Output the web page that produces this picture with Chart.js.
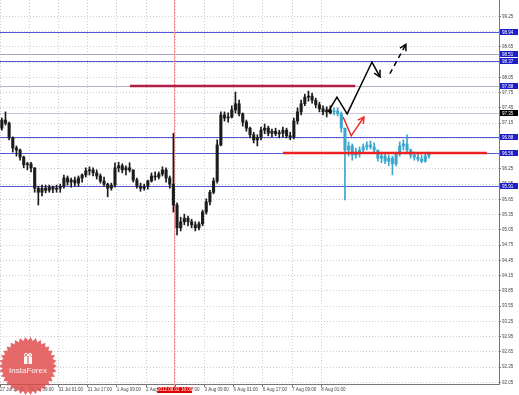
<!DOCTYPE html>
<html>
<head>
<meta charset="utf-8">
<script src="https://cdn.jsdelivr.net/npm/chart.js@4.4.0/dist/chart.umd.min.js"></script>
<style>
html,body{margin:0;padding:0;background:#fff;}
canvas{display:block;}
</style>
</head>
<body>
<canvas id="c" width="519" height="395"></canvas>
<script>
// 2 hour bars, x value = bar number
var barOpen  = [97.05,97.21,97.15,96.86,96.66,96.62,96.48,96.33,96.35,96.27,95.87,95.79,95.87,95.83,95.89,95.85,95.87,95.91,96.07,95.99,
                96.03,95.97,96.07,96.13,96.21,96.23,96.17,96.11,96.01,95.95,95.87,95.93,96.27,96.31,96.23,96.27,96.23,96.03,95.91,95.87,
                95.91,96.01,96.11,96.09,96.15,96.23,96.07,95.95,95.54,95.09,95.21,95.28,95.21,95.15,95.09,95.17,95.40,95.60,95.79,96.01,
                96.72,97.31,97.25,97.27,97.41,97.53,97.33,97.17,97.05,96.92,96.82,96.86,97.01,97.05,96.95,96.99,96.94,96.95,97.01,96.90,
                96.88,97.19,97.37,97.53,97.66,97.68,97.60,97.51,97.43,97.37,97.41];
var barHigh  = [97.25,97.37,97.17,96.88,96.70,96.64,96.50,96.38,96.38,96.27,95.91,95.93,95.93,95.93,95.91,95.93,95.95,96.13,96.11,96.07,
                96.09,96.11,96.15,96.27,96.29,96.27,96.23,96.15,96.09,95.97,95.97,96.37,96.38,96.35,96.31,96.37,96.23,96.07,95.97,95.95,
                96.03,96.17,96.19,96.19,96.29,96.27,96.11,96.95,95.58,95.30,95.36,95.32,95.26,95.21,95.21,95.44,95.66,95.83,96.07,96.82,
                97.37,97.37,97.35,97.49,97.76,97.60,97.35,97.21,97.07,96.97,96.92,97.07,97.13,97.09,97.03,97.05,97.01,97.07,97.05,96.97,
                97.25,97.45,97.60,97.72,97.78,97.74,97.64,97.56,97.49,97.47,97.49];
var barLow   = [97.01,97.11,96.82,96.58,96.50,96.42,96.27,96.23,96.19,95.79,95.54,95.72,95.78,95.79,95.78,95.79,95.79,95.87,95.93,95.89,
                95.91,95.91,95.99,96.09,96.13,96.11,96.05,95.97,95.91,95.70,95.83,95.89,96.19,96.17,96.13,96.19,95.99,95.87,95.81,95.83,
                95.85,95.99,96.03,96.05,96.11,95.99,95.87,95.40,94.95,95.03,95.15,95.13,95.09,95.03,95.05,95.13,95.36,95.54,95.76,95.97,
                96.70,97.19,97.17,97.25,97.35,97.29,97.09,96.99,96.86,96.76,96.70,96.82,96.94,96.90,96.88,96.90,96.86,96.88,96.86,96.82,
                96.84,97.13,97.31,97.49,97.58,97.54,97.45,97.37,97.31,97.27,97.33];
var barClose = [97.21,97.15,96.86,96.66,96.62,96.48,96.33,96.35,96.27,95.87,95.79,95.87,95.83,95.89,95.85,95.87,95.91,96.07,95.99,96.03,
                95.97,96.07,96.13,96.21,96.23,96.17,96.11,96.01,95.95,95.87,95.93,96.27,96.31,96.23,96.27,96.23,96.03,95.91,95.87,95.91,
                96.01,96.11,96.09,96.15,96.23,96.07,95.95,95.54,95.09,95.21,95.28,95.21,95.15,95.09,95.17,95.40,95.60,95.79,96.01,96.72,
                97.31,97.25,97.27,97.41,97.53,97.33,97.17,97.05,96.92,96.82,96.86,97.01,97.05,96.95,96.99,96.94,96.95,97.01,96.90,96.88,
                97.19,97.37,97.53,97.66,97.68,97.60,97.51,97.43,97.37,97.41,97.35];

// projected bars (cyan), starting at bar 91
var projFirstBar = 91;
var projOpen  = [97.37,97.39,97.33,97.05,96.62,96.70,96.52,96.58,96.62,96.68,96.72,96.68,96.62,96.46,96.50,96.40,96.46,96.35,96.54,96.70,
                 96.74,96.62,96.52,96.48,96.44,96.40,96.50];
var projHigh  = [97.45,97.45,97.37,97.05,96.78,96.74,96.66,96.68,96.74,96.78,96.80,96.76,96.62,96.58,96.54,96.52,96.50,96.58,96.78,96.82,
                 96.92,96.64,96.58,96.54,96.52,96.54,96.58];
var projLow   = [97.31,97.29,96.97,95.64,96.50,96.42,96.46,96.48,96.58,96.62,96.64,96.58,96.40,96.37,96.35,96.31,96.13,96.31,96.50,96.62,
                 96.58,96.46,96.42,96.40,96.37,96.38,96.46];
var projClose = [97.39,97.33,97.05,96.62,96.70,96.52,96.58,96.62,96.68,96.72,96.68,96.62,96.46,96.50,96.40,96.46,96.35,96.54,96.70,96.74,
                 96.62,96.52,96.48,96.44,96.40,96.50,96.54];

var xTickBars   = [0, 8, 16, 24, 32, 40, 48, 56, 64, 72, 80, 88];
var xTickLabels = ['27 Jul 17:00','30 Jul 09:00','31 Jul 01:00','31 Jul 17:00','1 Aug 09:00','2 Aug 01:00',
                   '2 Aug 17:00','3 Aug 09:00','6 Aug 01:00','6 Aug 17:00','7 Aug 09:00','8 Aug 01:00'];
var yTicks = [92.05,92.35,92.65,92.95,93.25,93.55,93.85,94.15,94.45,94.75,95.05,95.35,95.65,95.95,
              96.25,96.55,96.85,97.15,97.45,97.75,98.05,98.35,98.65,98.95,99.25];

// horizontal levels and their right-hand price boxes
var levels = [98.94, 98.51, 98.37, 97.88, 97.35, 96.88, 96.56, 95.91];
var levelLine = ['#5656d8','#a4a4c4','#5656d8','#b4b4c4','#c8c8d8','#5656d8','#5656d8','#5656d8'];
var levelBox  = ['#1e1ec8','#1e1ec8','#1e1ec8','#1e1ec8','#000000','#1e1ec8','#1e1ec8','#1e1ec8'];

var eventBar = 47.7;
var eventLabel = '2012.08.02 16:00';

// drawn analysis
var resistX = [35.6, 97.3],  resistY = [97.88, 97.88];
var supportX = [77.5, 133.4], supportY = [96.56, 96.56];
var upPathX = [89.9, 92.3, 95.1, 101.9, 104.1], upPathY = [97.37, 97.66, 97.33, 98.35, 98.06];
var upNextX = [106.8, 111.2], upNextY = [98.12, 98.70];
var dipX = [94.0, 96.2, 99.7], dipY = [97.27, 96.90, 97.27];

function pts(xs, ys) { return xs.map(function(x, i){ return {x: x, y: ys[i]}; }); }

var wicks = barHigh.map(function(h, i){ return {x: i + 0.5, y: [barLow[i], h]}; });
var bodies = barOpen.map(function(o, i){ return {x: i + 0.5, y: [o, barClose[i]]}; });
var projWicks = projHigh.map(function(h, i){ return {x: projFirstBar + i + 0.5, y: [projLow[i], h]}; });
var projBodies = projOpen.map(function(o, i){ return {x: projFirstBar + i + 0.5, y: [o, projClose[i]]}; });

var FONT = 'Liberation Sans';

function arrowHead(ctx, a, b, color, len) {
    var ang = Math.atan2(b.y - a.y, b.x - a.x);
    ctx.save();
    ctx.strokeStyle = color;
    ctx.lineWidth = 1.5;
    ctx.setLineDash([]);
    ctx.beginPath();
    ctx.moveTo(b.x - len * Math.cos(ang - 0.5), b.y - len * Math.sin(ang - 0.5));
    ctx.lineTo(b.x, b.y);
    ctx.lineTo(b.x - len * Math.cos(ang + 0.5), b.y - len * Math.sin(ang + 0.5));
    ctx.stroke();
    ctx.restore();
}

function drawLogo(ctx) {
    var cx = 28, cy = 366, r1 = 29, r2 = 25.5, n = 34;
    ctx.save();
    ctx.globalAlpha = 0.82;
    ctx.fillStyle = '#e04848';
    ctx.beginPath();
    for (var k = 0; k < n * 2; k++) {
        var a = k * Math.PI / n;
        var r = k % 2 ? r2 : r1;
        var px = cx + r * Math.cos(a), py = cy + r * Math.sin(a);
        if (k === 0) ctx.moveTo(px, py); else ctx.lineTo(px, py);
    }
    ctx.closePath();
    ctx.fill();
    ctx.globalAlpha = 0.95;
    ctx.fillStyle = '#fff';
    ctx.strokeStyle = '#fff';
    ctx.lineWidth = 1;
    // little gift icon
    ctx.fillRect(cx - 4, cy - 9, 8, 7);
    ctx.beginPath();
    ctx.arc(cx - 2, cy - 11, 1.6, 0, Math.PI * 2);
    ctx.arc(cx + 2, cy - 11, 1.6, 0, Math.PI * 2);
    ctx.stroke();
    ctx.fillStyle = '#e04848';
    ctx.fillRect(cx - 0.5, cy - 9, 1, 7);
    ctx.fillStyle = '#fff';
    ctx.font = '8px "' + FONT + '"';
    ctx.textAlign = 'center';
    ctx.textBaseline = 'middle';
    ctx.fillText('InstaForex', cx, cy + 5);
    ctx.restore();
}

var paper = {
    id: 'paper',
    beforeDraw: function(chart) {
        var ctx = chart.ctx;
        ctx.save();
        ctx.fillStyle = '#fff';
        ctx.fillRect(0, 0, chart.width, chart.height);
        ctx.restore();
    },
    beforeDatasetsDraw: function(chart) {
        var ctx = chart.ctx, area = chart.chartArea;
        var ys = chart.scales.y, xs = chart.scales.x;
        ctx.save();
        ctx.lineWidth = 1;
        levels.forEach(function(v, i) {
            var py = Math.round(ys.getPixelForValue(v)) + 0.5;
            ctx.strokeStyle = levelLine[i];
            ctx.beginPath();
            ctx.moveTo(area.left, py);
            ctx.lineTo(area.right, py);
            ctx.stroke();
        });
        var ex = Math.round(xs.getPixelForValue(eventBar)) + 0.5;
        ctx.strokeStyle = '#f29a9a';
        ctx.beginPath();
        ctx.moveTo(ex, area.top);
        ctx.lineTo(ex, area.bottom + 3);
        ctx.stroke();
        ctx.restore();
    },
    afterDatasetsDraw: function(chart) {
        var ctx = chart.ctx;
        chart.data.datasets.forEach(function(ds, i) {
            if (!ds.arrow) return;
            var pts = chart.getDatasetMeta(i).data;
            var a = pts[pts.length - 2], b = pts[pts.length - 1];
            arrowHead(ctx, a, b, ds.borderColor, 7);
        });
    },
    afterDraw: function(chart) {
        var ctx = chart.ctx, area = chart.chartArea;
        var ys = chart.scales.y, xs = chart.scales.x;
        ctx.save();
        ctx.font = '4.5px "' + FONT + '"';
        ctx.textBaseline = 'middle';
        levels.forEach(function(v, i) {
            var py = Math.round(ys.getPixelForValue(v));
            ctx.fillStyle = levelBox[i];
            ctx.fillRect(area.right + 1, py - 3, 18, 6);
            ctx.fillStyle = '#fff';
            ctx.textAlign = 'left';
            ctx.fillText(v.toFixed(2), area.right + 3, py + 0.5);
        });
        var ex = xs.getPixelForValue(eventBar);
        ctx.fillStyle = '#e00000';
        ctx.fillRect(ex - 17, area.bottom + 3, 35, 6);
        ctx.fillStyle = '#fff';
        ctx.textAlign = 'center';
        ctx.fillText(eventLabel, ex + 0.5, area.bottom + 6.2);
        ctx.restore();
        drawLogo(ctx);
    }
};

function candleSet(data, color, width) {
    return {type: 'bar', data: data, backgroundColor: color, borderWidth: 0,
            barThickness: width, grouped: false, minBarLength: 1, order: 2};
}
function pathSet(xs, ys, color, width, dash, arrow) {
    return {type: 'line', data: pts(xs, ys), borderColor: color, borderWidth: width,
            borderDash: dash, pointRadius: 0, fill: false, tension: 0, order: 0, arrow: arrow};
}

new Chart(document.getElementById('c'), {
    type: 'bar',
    data: {
        datasets: [
            candleSet(wicks, '#1a1a1a', 1),
            candleSet(bodies, '#2a2a2a', 2.5),
            candleSet(projWicks, '#3aa6cc', 1),
            candleSet(projBodies, '#44aed2', 2.5),
            pathSet(resistX, resistY, '#b01e46', 2.5, [], false),
            pathSet(supportX, supportY, '#ec2222', 2.5, [], false),
            pathSet(dipX, dipY, '#ee2a2a', 1.5, [], true),
            pathSet(upPathX, upPathY, '#000', 1.5, [], true),
            pathSet(upNextX, upNextY, '#000', 1.5, [5, 4], true)
        ]
    },
    options: {
        responsive: false,
        devicePixelRatio: 1,
        animation: false,
        layout: {padding: 0},
        plugins: {legend: {display: false}, tooltip: {enabled: false}},
        scales: {
            x: {
                type: 'linear', min: 0, max: 136.7, offset: false,
                afterBuildTicks: function(s){ s.ticks = xTickBars.map(function(v){ return {value: v}; }); },
                afterFit: function(s){ s.height = 11; s.paddingLeft = 0; s.paddingRight = 0; },
                grid: {color: '#cdcdcd', lineWidth: 1, offset: false, tickLength: 3, tickColor: '#777'},
                border: {display: true, color: '#777', dash: [1, 2]},
                ticks: {align: 'start', padding: 0, maxRotation: 0, autoSkip: false, color: '#444',
                        font: {size: 4.5, family: FONT},
                        callback: function(v, i){ return xTickLabels[i]; }}
            },
            y: {
                type: 'linear', position: 'right', min: 92.02, max: 99.57,
                afterBuildTicks: function(s){ s.ticks = yTicks.map(function(v){ return {value: v}; }); },
                afterFit: function(s){ s.width = 20; s.paddingTop = 0; s.paddingBottom = 0; },
                grid: {color: '#cdcdcd', lineWidth: 1, tickLength: 2, tickColor: '#777'},
                border: {display: true, color: '#777', dash: [1, 2]},
                ticks: {padding: 1, autoSkip: false, color: '#444', font: {size: 4.5, family: FONT},
                        callback: function(v){ return v.toFixed(2); }}
            }
        }
    },
    plugins: [paper]
});
</script>
</body>
</html>
